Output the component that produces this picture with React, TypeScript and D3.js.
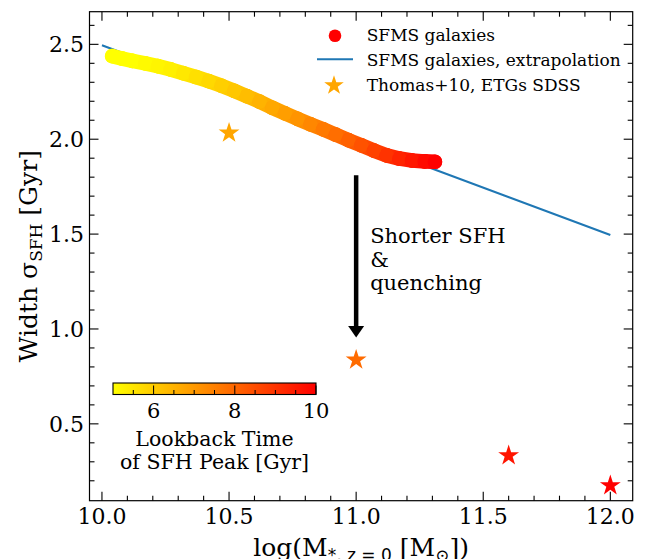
import React from "react";
import * as d3 from "d3";

// SFMS galaxies: stellar mass, SFH width, lookback time of SFH peak
const sfmsMass = [10.04, 10.08, 10.12, 10.17, 10.22, 10.27, 10.32, 10.37, 10.42, 10.47, 10.52, 10.57, 10.62, 10.67, 10.72, 10.77, 10.82, 10.87, 10.92, 10.97, 11.02, 11.07, 11.12, 11.17, 11.22, 11.27, 11.31];
const sfmsWidth = [2.438, 2.425, 2.413, 2.4, 2.385, 2.368, 2.348, 2.328, 2.306, 2.282, 2.255, 2.227, 2.198, 2.166, 2.136, 2.107, 2.079, 2.052, 2.024, 1.995, 1.968, 1.94, 1.915, 1.898, 1.888, 1.883, 1.881];
const sfmsPeak = [4.9, 5.0, 5.0, 5.1, 5.2, 5.3, 5.45, 5.6, 5.75, 5.95, 6.1, 6.3, 6.5, 6.7, 6.9, 7.1, 7.35, 7.6, 7.85, 8.1, 8.4, 8.7, 9.0, 9.3, 9.55, 9.8, 10.0];

// extrapolation line
const extrapMass = [10.0, 11.0, 12.0];
const extrapWidth = [2.495, 1.995, 1.495];

// Thomas+10 ETGs
const thomasMass = [10.5, 11.0, 11.6, 12.0];
const thomasWidth = [2.033, 0.837, 0.333, 0.175];
const thomasPeak = [6.75, 7.9, 9.6, 10.0];

const xTicks = [10.0, 10.5, 11.0, 11.5, 12.0];
const yTicks = [0.5, 1.0, 1.5, 2.0, 2.5];
const cbTicks = [6, 8, 10];
const legendLabels = ["SFMS galaxies", "SFMS galaxies, extrapolation", "Thomas+10, ETGs SDSS"];

const W = 646;
const H = 559;
const serif = "'DejaVu Serif', serif";
const sans = "'DejaVu Sans', sans-serif";

export default function App() {
  const x = d3.scaleLinear().domain([9.951, 12.088]).range([89.5, 632.7]);
  const y = d3.scaleLinear().domain([0.095, 2.672]).range([500.7, 11.7]);
  const color = d3.scaleLinear<string>().domain([5, 10]).range(["#ffff00", "#ff0000"]).clamp(true);
  const cb = d3.scaleLinear().domain([5, 10]).range([113, 316]);

  const [x0, x1] = x.range();
  const [y0, y1] = y.range();

  const xMinor = d3.range(10.0, 12.05, 0.1).map((v) => +v.toFixed(2));
  const yMinor = d3.range(0.2, 2.65, 0.1).map((v) => +v.toFixed(2));
  const cbMinor = d3.range(5.5, 10.01, 0.5);

  const extrapLine = d3
    .line<number>()
    .x((_, i) => x(extrapMass[i]))
    .y((_, i) => y(extrapWidth[i]));

  const star = d3.symbol().type(d3.symbolStar).size(135)();
  const legendStar = d3.symbol().type(d3.symbolStar).size(118)();

  const r = 7.3;
  const arrowX = x(11.0);
  const arrowTop = y(1.81);
  const arrowTip = y(0.955);

  const tick = (key: string, x1_: number, y1_: number, x2_: number, y2_: number) => (
    <line key={key} x1={x1_} y1={y1_} x2={x2_} y2={y2_} stroke="#000" strokeWidth={1.1} />
  );

  return (
    <svg width={W} height={H} style={{ position: "absolute", left: 0, top: 0, background: "#fff" }}>
      <defs>
        <linearGradient id="cbgrad" x1="0" x2="1" y1="0" y2="0">
          <stop offset="0%" stopColor={color(5)} />
          <stop offset="100%" stopColor={color(10)} />
        </linearGradient>
      </defs>

      {/* extrapolation line */}
      <path d={extrapLine(extrapMass) || ""} fill="none" stroke="#1f77b4" strokeWidth={2.1} />

      {/* SFMS band */}
      <g>
        {sfmsMass.slice(1).map((m, i) => (
          <line
            key={"s" + i}
            x1={x(sfmsMass[i])}
            y1={y(sfmsWidth[i])}
            x2={x(m)}
            y2={y(sfmsWidth[i + 1])}
            stroke={color((sfmsPeak[i] + sfmsPeak[i + 1]) / 2)}
            strokeWidth={2 * r}
            strokeLinecap="round"
          />
        ))}
        {sfmsMass.map((m, i) => (
          <circle key={"c" + i} cx={x(m)} cy={y(sfmsWidth[i])} r={r} fill={color(sfmsPeak[i])} />
        ))}
      </g>

      {/* Thomas+10 stars */}
      {thomasMass.map((m, i) => (
        <path key={"t" + i} d={star || ""} transform={`translate(${x(m)},${y(thomasWidth[i])})`} fill={color(thomasPeak[i])} />
      ))}

      {/* arrow */}
      <line x1={arrowX} x2={arrowX} y1={arrowTop} y2={arrowTip - 10} stroke="#000" strokeWidth={4.5} />
      <path d={`M${arrowX - 8},${arrowTip - 11.6} L${arrowX + 8},${arrowTip - 11.6} L${arrowX},${arrowTip} Z`} fill="#000" />
      <g fontFamily={serif} fontSize={21} fill="#000">
        <text x={arrowX + 14} y={243}>Shorter SFH</text>
        <text x={arrowX + 14} y={267}>&amp;</text>
        <text x={arrowX + 14} y={290}>quenching</text>
      </g>

      {/* legend */}
      <g fontFamily={serif} fontSize={17} fill="#000">
        <circle cx={335} cy={35.7} r={6.3} fill="#ff0000" />
        <line x1={317} x2={353} y1={59.3} y2={59.3} stroke="#1f77b4" strokeWidth={2.1} />
        <path d={legendStar || ""} transform="translate(334,85.5)" fill={color(6.75)} />
        {legendLabels.map((t) => (
          <text key={t} x={366.7} y={40.7 + legendLabels.indexOf(t) * 25}>{t}</text>
        ))}
      </g>

      {/* colorbar */}
      <rect x={cb(5)} y={383} width={cb(10) - cb(5)} height={11.5} fill="url(#cbgrad)" stroke="#000" strokeWidth={1.1} />
      {cbMinor.map((v) => (
        <line key={"cbm" + v} x1={cb(v)} x2={cb(v)} y1={394.5} y2={cbTicks.includes(v) ? 385.5 : 390} stroke="#000" strokeWidth={1} />
      ))}
      <g fontFamily={serif} fontSize={21} fill="#000" textAnchor="middle">
        {cbTicks.map((v) => (
          <text key={"cbt" + v} x={cb(v)} y={418}>{v}</text>
        ))}
        <text x={(cb(5) + cb(10)) / 2} y={446} fontSize={20.5}>Lookback Time</text>
        <text x={(cb(5) + cb(10)) / 2} y={469} fontSize={20.5}>of SFH Peak [Gyr]</text>
      </g>

      {/* frame */}
      <rect x={x0} y={y1} width={x1 - x0} height={y0 - y1} fill="none" stroke="#000" strokeWidth={1.2} />

      {/* ticks */}
      {xMinor.map((v) => {
        const len = xTicks.some((t) => Math.abs(t - v) < 1e-6) ? 9 : 5;
        return (
          <g key={"xt" + v}>
            {tick("b", x(v), y0, x(v), y0 - len)}
            {tick("t", x(v), y1, x(v), y1 + len)}
          </g>
        );
      })}
      {yMinor.map((v) => {
        const len = yTicks.some((t) => Math.abs(t - v) < 1e-6) ? 9 : 5;
        return (
          <g key={"yt" + v}>
            {tick("l", x0, y(v), x0 + len, y(v))}
            {tick("r", x1, y(v), x1 - len, y(v))}
          </g>
        );
      })}

      {/* tick labels */}
      <g fontFamily={serif} fontSize={22} fill="#000">
        {xTicks.map((v) => (
          <text key={"xl" + v} x={x(v)} y={524} textAnchor="middle">{v.toFixed(1)}</text>
        ))}
        {yTicks.map((v) => (
          <text key={"yl" + v} x={84} y={y(v)} dy="0.36em" textAnchor="end">{v.toFixed(1)}</text>
        ))}
      </g>

      {/* axis labels */}
      <text x={(x0 + x1) / 2} y={556} textAnchor="middle" fontFamily={serif} fontSize={25} fill="#000">
        log(M
        <tspan fontFamily={sans} fontSize={17} dy={5}>*, z = 0</tspan>
        <tspan dy={-5}> [M</tspan>
        <tspan fontSize={17} dy={5}>⊙</tspan>
        <tspan dy={-5}>])</tspan>
      </text>
      <text
        transform={`translate(37,${(y0 + y1) / 2}) rotate(-90)`}
        textAnchor="middle"
        fontFamily={serif}
        fontSize={25}
        fill="#000"
      >
        Width σ
        <tspan fontSize={17} dy={5}>SFH</tspan>
        <tspan dy={-5}> [Gyr]</tspan>
      </text>
    </svg>
  );
}
